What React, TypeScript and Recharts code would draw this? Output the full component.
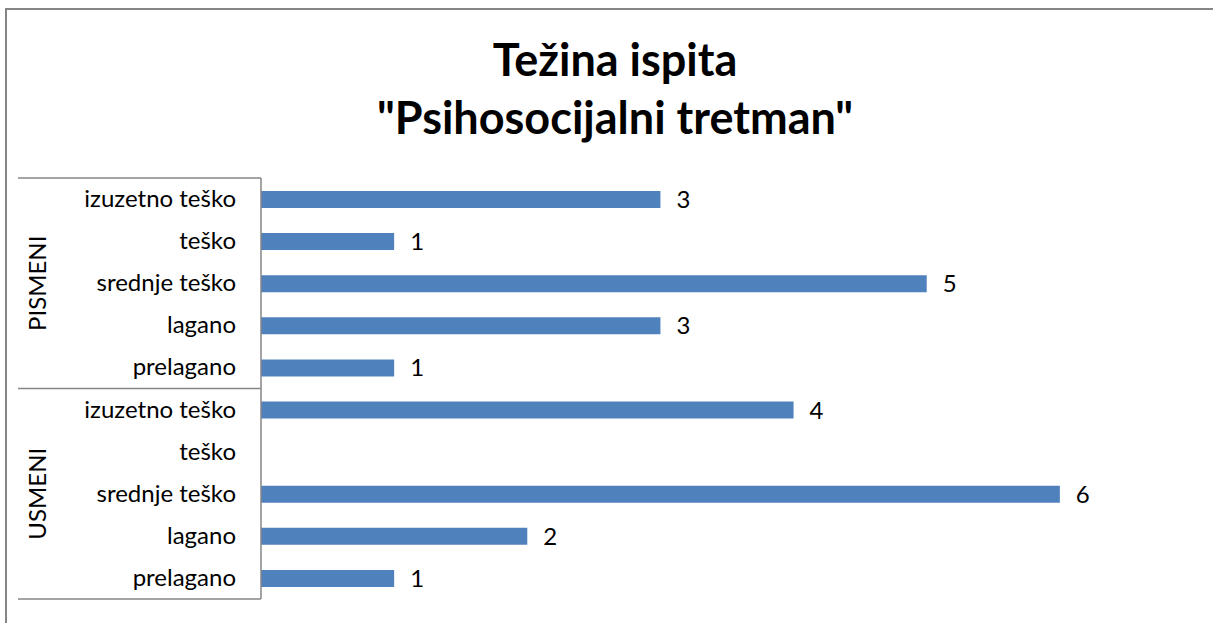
import { Bar, BarChart, LabelList, XAxis, YAxis } from "recharts";

const levels = ["izuzetno teško", "teško", "srednje teško", "lagano", "prelagano"];
const groups = ["PISMENI", "USMENI"];
const pismeniValues = [3, 1, 5, 3, 1];
const usmeniValues = [4, 0, 6, 2, 1];
const xDomain: [number, number] = [0, 7];

const rows = groups.flatMap((group, g) =>
  levels.map((level, i) => ({
    key: `${group}|${level}`,
    group,
    level,
    value: (g === 0 ? pismeniValues : usmeniValues)[i]
  }))
);

const FONT = "Lato, 'Open Sans', sans-serif";
const AXIS_GRAY = "#868686";
const PLOT_TOP = 178;
const PLOT_BOTTOM = 24;
const CHART_H = 623;
const BAND = (CHART_H - PLOT_TOP - PLOT_BOTTOM) / rows.length;
const LEFT_EDGE = 18;
const AXIS_X = 261;
const LABEL_SIZE = 24;

function CategoryTick(props: any) {
  const { y, payload, index } = props;
  const row = rows[index] ?? rows.find((r) => r.key === payload.value);
  const inGroup = index % levels.length;
  return (
    <g>
      <text
        x={AXIS_X - 25}
        y={y}
        dy={8}
        textAnchor="end"
        fontFamily={FONT}
        fontSize={LABEL_SIZE}
        fill="#000"
      >
        {row?.level}
      </text>
      {inGroup === 0 && (
        <line x1={LEFT_EDGE} x2={AXIS_X} y1={y - BAND / 2} y2={y - BAND / 2} stroke={AXIS_GRAY} strokeWidth={1.5} />
      )}
      {index === rows.length - 1 && (
        <line x1={LEFT_EDGE} x2={AXIS_X} y1={y + BAND / 2} y2={y + BAND / 2} stroke={AXIS_GRAY} strokeWidth={1.5} />
      )}
      {inGroup === 2 && (
        <text
          x={38}
          y={y}
          transform={`rotate(-90 38 ${y})`}
          textAnchor="middle"
          dy={8}
          fontFamily={FONT}
          fontSize={LABEL_SIZE}
          fill="#000"
        >
          {row?.group}
        </text>
      )}
    </g>
  );
}

export default function App() {
  return (
    <div style={{ position: "absolute", left: 0, top: 0, width: 1213, height: 623, background: "#fff", overflow: "hidden" }}>
      <div
        style={{
          position: "absolute",
          left: 5,
          top: 8,
          width: 1220,
          height: 630,
          borderTop: `2px solid ${AXIS_GRAY}`,
          borderLeft: `2px solid ${AXIS_GRAY}`
        }}
      />
      <div
        style={{
          position: "absolute",
          left: 0,
          top: 30,
          width: 1230,
          textAlign: "center",
          fontFamily: FONT,
          fontWeight: 700,
          fontSize: 45,
          lineHeight: "58px",
          color: "#000"
        }}
      >
        Težina ispita
        <br />
        "Psihosocijalni tretman"
      </div>
      <div style={{ position: "absolute", left: 0, top: 0 }}>
        <BarChart
          width={1213}
          height={CHART_H}
          data={rows}
          layout="vertical"
          margin={{ top: PLOT_TOP, right: 20, bottom: PLOT_BOTTOM, left: LEFT_EDGE }}
          barCategoryGap={0}
        >
          <XAxis type="number" domain={xDomain} hide />
          <YAxis
            type="category"
            dataKey="key"
            width={AXIS_X - LEFT_EDGE}
            axisLine={{ stroke: AXIS_GRAY, strokeWidth: 1.5 }}
            tickLine={false}
            interval={0}
            tick={<CategoryTick />}
          />
          <Bar dataKey="value" fill="#4F81BD" barSize={17} isAnimationActive={false}>
            <LabelList
              dataKey="value"
              position="right"
              offset={16}
              formatter={(v: any) => (v ? v : "")}
              fill="#000"
              fontFamily={FONT}
              fontSize={LABEL_SIZE}
            />
          </Bar>
        </BarChart>
      </div>
    </div>
  );
}
